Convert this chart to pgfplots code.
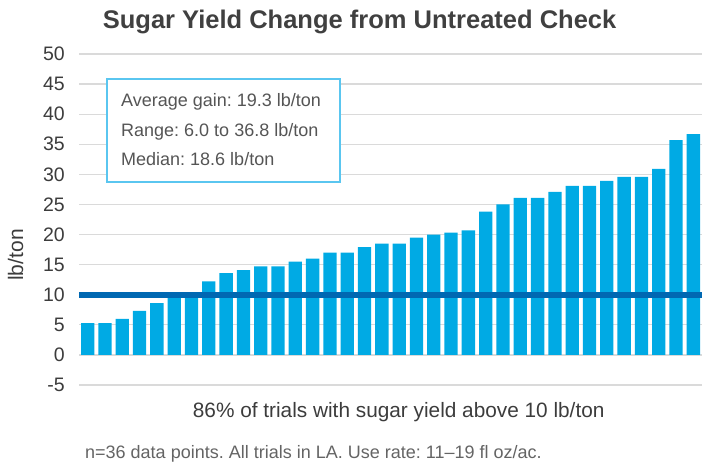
\documentclass[border=0pt]{standalone}
\usepackage{pgfplots}
\pgfplotsset{compat=1.18}
\usepackage{fontspec}
\setmainfont{Liberation Sans}
\frenchspacing
\definecolor{barblue}{RGB}{0,170,228}
\definecolor{lineblue}{RGB}{0,104,178}
\definecolor{gridgray}{RGB}{218,218,218}
\definecolor{boxblue}{RGB}{90,198,240}
\definecolor{titlegray}{RGB}{64,64,64}
\definecolor{tickgray}{RGB}{60,60,60}
\definecolor{boxtext}{RGB}{85,85,85}
\definecolor{footgray}{RGB}{100,100,100}
\begin{document}
\begin{tikzpicture}[x=1bp,y=1bp]
\useasboundingbox (0,0) rectangle (712,463);
\begin{axis}[
  at={(79bp,78bp)}, anchor=south west,
  scale only axis, width=623bp, height=331bp,
  xmin=0.5, xmax=36.5, ymin=-5, ymax=50,
  ytick={-5,0,5,10,15,20,25,30,35,40,45,50},
  xtick=\empty,
  axis line style={draw=none},
  major tick length=0pt,
  ymajorgrids, grid style={gridgray, line width=1.3bp},
  /pgf/number format/assume math mode=true,
  yticklabel style={font=\fontsize{19.5bp}{22bp}\selectfont, text=tickgray, inner sep=0pt, xshift=-14bp},
]
\addplot[ybar, bar width=13.3bp, bar shift=0pt, fill=barblue, draw=none] coordinates {
(1,5.3) (2,5.3) (3,6.0) (4,7.3) (5,8.6) (6,10.2) (7,10.3) (8,12.2) (9,13.6) (10,14.1)
(11,14.7) (12,14.7) (13,15.5) (14,16.0) (15,17.0) (16,17.0) (17,17.9) (18,18.5) (19,18.5) (20,19.5)
(21,20.0) (22,20.3) (23,20.7) (24,23.8) (25,25.0) (26,26.1) (27,26.1) (28,27.1) (29,28.1) (30,28.1)
(31,28.9) (32,29.6) (33,29.6) (34,30.9) (35,35.7) (36,36.7)};
\addplot[line width=6bp, lineblue] coordinates {(0.5,10) (36.5,10)};
\end{axis}
\draw[boxblue, line width=1.3bp, fill=white] (107,384) rectangle (340,281);
\node[anchor=base west, inner sep=0pt, text=boxtext, font=\fontsize{18bp}{21bp}\selectfont] at (121,356.3) {Average gain: 19.3 lb/ton};
\node[anchor=base west, inner sep=0pt, text=boxtext, font=\fontsize{18bp}{21bp}\selectfont] at (121,326.3) {Range: 6.0 to 36.8 lb/ton};
\node[anchor=base west, inner sep=0pt, text=boxtext, font=\fontsize{18bp}{21bp}\selectfont] at (121,297) {Median: 18.6 lb/ton};
\node[anchor=base west, inner sep=0pt, text=titlegray, font=\fontsize{25.5bp}{30bp}\selectfont\bfseries] at (102.7,434.7) {Sugar Yield Change from Untreated Check};
\node[anchor=base, rotate=90, inner sep=0pt, text=tickgray, font=\fontsize{21bp}{24bp}\selectfont] at (23,208) {lb/ton};
\node[anchor=base west, inner sep=0pt, text=tickgray, font=\fontsize{20.8bp}{24bp}\selectfont] at (192.7,45.3) {86\% of trials with sugar yield above 10 lb/ton};
\node[anchor=base west, inner sep=0pt, text=footgray, font=\fontsize{18bp}{21bp}\selectfont] at (85,4.5) {n=36 data points. All trials in LA. Use rate: 11–19 fl oz/ac.};
\end{tikzpicture}
\end{document}
